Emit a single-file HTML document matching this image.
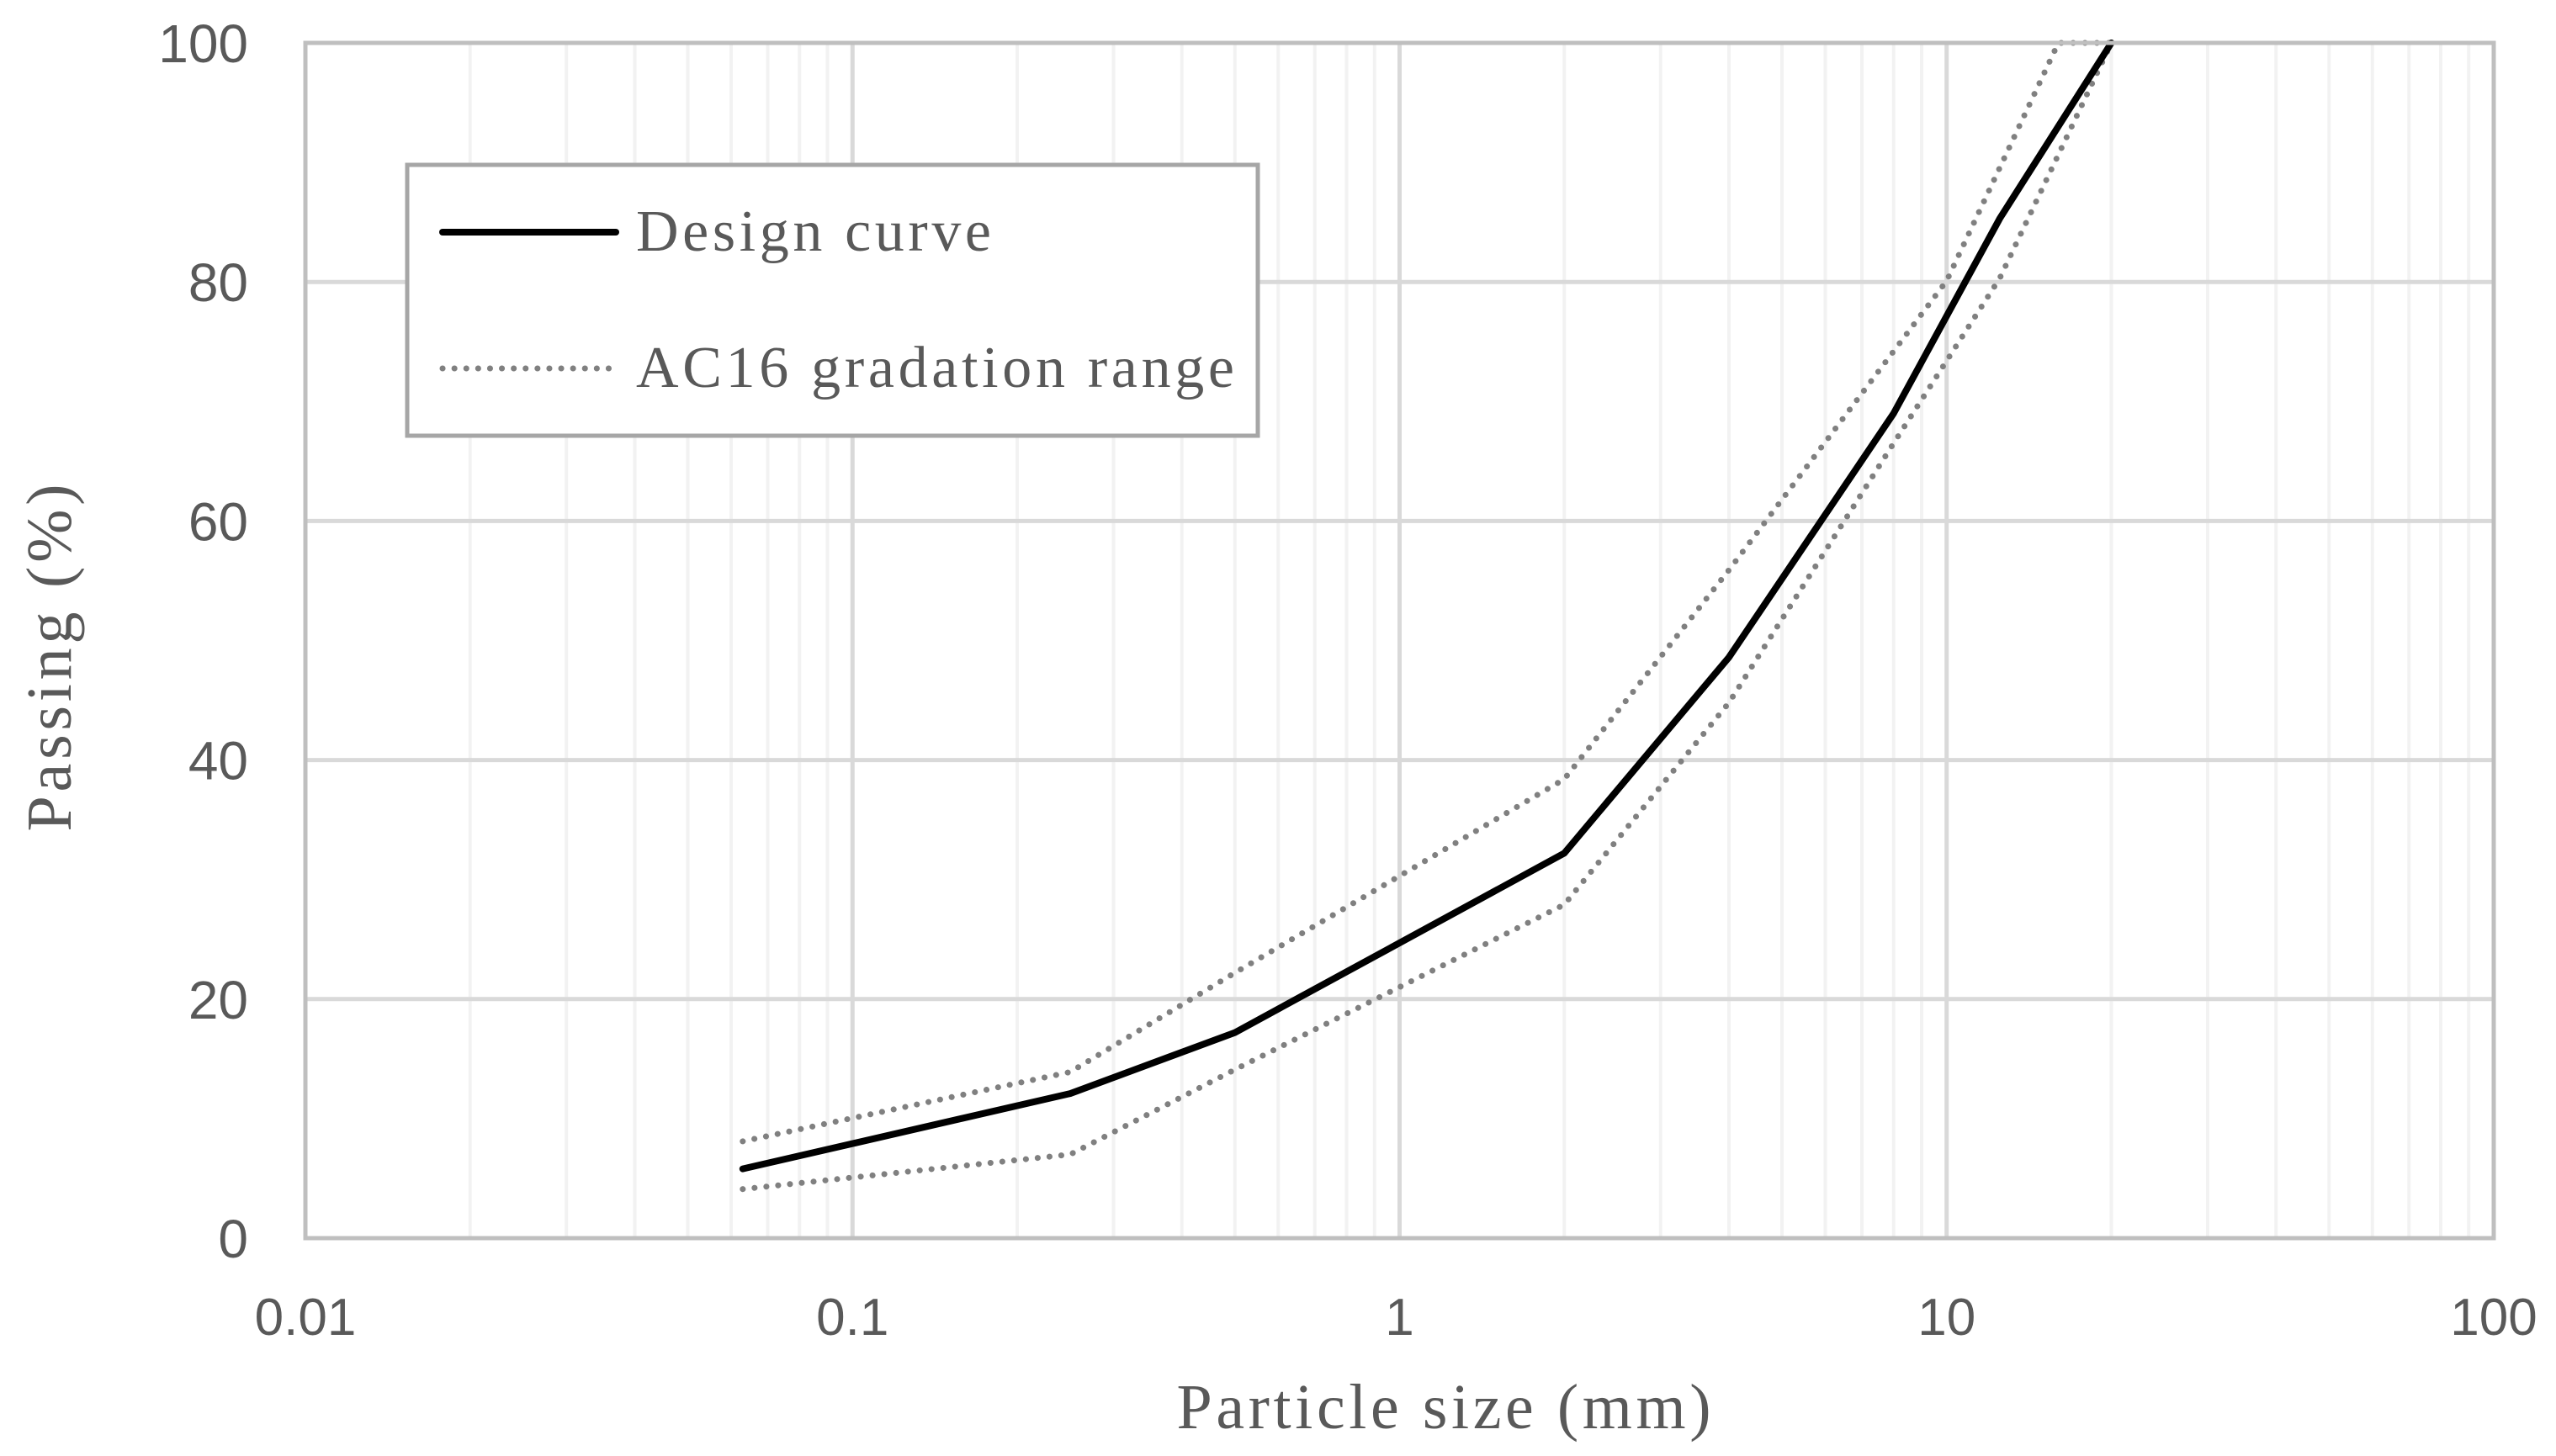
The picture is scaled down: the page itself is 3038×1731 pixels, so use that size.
<!DOCTYPE html>
<html><head><meta charset="utf-8"><style>
html,body{margin:0;padding:0;background:#fff;}
svg{display:block;}
</style></head><body>
<svg id="chart" width="3038" height="1731" viewBox="0 0 3038 1731" xmlns="http://www.w3.org/2000/svg">
<rect x="0" y="0" width="3038" height="1731" fill="#fff"/>
<g id="grid"></g>
<g id="series"></g>
<g id="axes"></g>
<text x="1716" y="1698" font-family="'Liberation Serif', serif" font-size="76" fill="#595959" text-anchor="middle" textLength="635">Particle size (mm)</text>
<text transform="translate(84,782) rotate(-90)" font-family="'Liberation Serif', serif" font-size="76" fill="#595959" text-anchor="middle" textLength="413">Passing (%)</text>
<g>
<rect x="484" y="196" width="1011" height="322" fill="#fff" stroke="#a6a6a6" stroke-width="5"/>
<line x1="526" y1="276" x2="732" y2="276" stroke="#000" stroke-width="8" stroke-linecap="round"/>
<text x="756" y="298" font-family="'Liberation Serif', serif" font-size="70" fill="#595959" textLength="422">Design curve</text>
<line x1="526" y1="438" x2="732" y2="438" stroke="#808080" stroke-width="7" stroke-linecap="round" stroke-dasharray="0.1 14"/>
<text x="756" y="460" font-family="'Liberation Serif', serif" font-size="70" fill="#595959" textLength="711">AC16 gradation range</text>
</g>
</svg>
<script>
const designSizes = [0.063, 0.25, 0.5, 2, 4, 8, 12.5, 20];
const designPassing = [5.8, 12.1, 17.2, 32.2, 48.6, 69.0, 85.3, 100];
const upperSizes = [0.063, 0.25, 0.5, 2, 4, 8, 10, 16, 20];
const upperPassing = [8.1, 13.9, 22.2, 38.4, 55.9, 74.2, 80.1, 100, 100];
const lowerSizes = [0.063, 0.25, 0.5, 2, 4, 8, 12.5, 20];
const lowerPassing = [4.1, 7.0, 14.1, 27.9, 44.8, 66.5, 80.3, 100];
const xTicks = [0.01, 0.1, 1, 10, 100];
const xTickLabels = ["0.01", "0.1", "1", "10", "100"];
const yTicks = [0, 20, 40, 60, 80, 100];

const NS = "http://www.w3.org/2000/svg";
const X0 = 363, X1 = 2964, Y0 = 1472, Y1 = 51;
function xs(v){ return X0 + (Math.log10(v) + 2) / 4 * (X1 - X0); }
function ys(v){ return Y0 - v / 100 * (Y0 - Y1); }
function mk(tag, attrs, parent){
  const e = document.createElementNS(NS, tag);
  for (const k in attrs) e.setAttribute(k, attrs[k]);
  parent.appendChild(e);
  return e;
}
const grid = document.getElementById('grid');
const axes = document.getElementById('axes');
const series = document.getElementById('series');

for (let d = -2; d < 2; d++) {
  for (let m = 2; m <= 9; m++) {
    const x = xs(m * Math.pow(10, d));
    const l = mk('line', {x1:x, y1:Y1, x2:x, y2:Y0, stroke:'#f2f2f2', 'stroke-width':4}, grid);
    
    
  }
}
xTicks.forEach((t, i) => {
  const x = xs(t);
  const l = mk('line', {x1:x, y1:Y1, x2:x, y2:Y0, stroke:'#d9d9d9', 'stroke-width':5}, grid);
  
  
  const tx = mk('text', {x:x, y:1587, 'font-family':"'Liberation Sans', sans-serif", 'font-size':62, fill:'#595959', 'text-anchor':'middle'}, axes);
  tx.textContent = xTickLabels[i];
  
  
});
yTicks.forEach(t => {
  const y = ys(t);
  const l = mk('line', {x1:X0, y1:y, x2:X1, y2:y, stroke:'#d9d9d9', 'stroke-width':5}, grid);
  
  
  const tx = mk('text', {x:295, y:y + 23, 'font-family':"'Liberation Sans', sans-serif", 'font-size':64, fill:'#595959', 'text-anchor':'end'}, axes);
  tx.textContent = String(t);
  
  
});
const border = mk('rect', {x:X0, y:Y1, width:X1 - X0, height:Y0 - Y1, fill:'none', stroke:'#bfbfbf', 'stroke-width':5}, axes);



function pts(sx, sy){ return sx.map((s, i) => xs(s).toFixed(1) + ',' + ys(sy[i]).toFixed(1)).join(' '); }
const up = mk('polyline', {points:pts(upperSizes, upperPassing), fill:'none', stroke:'#808080', 'stroke-width':7, 'stroke-linecap':'round', 'stroke-dasharray':'0.1 14'}, series);


const lo = mk('polyline', {points:pts(lowerSizes, lowerPassing), fill:'none', stroke:'#808080', 'stroke-width':7, 'stroke-linecap':'round', 'stroke-dasharray':'0.1 14'}, series);


const de = mk('polyline', {points:pts(designSizes, designPassing), fill:'none', stroke:'#000', 'stroke-width':8, 'stroke-linejoin':'round', 'stroke-linecap':'round'}, series);


</script>
</body></html>
